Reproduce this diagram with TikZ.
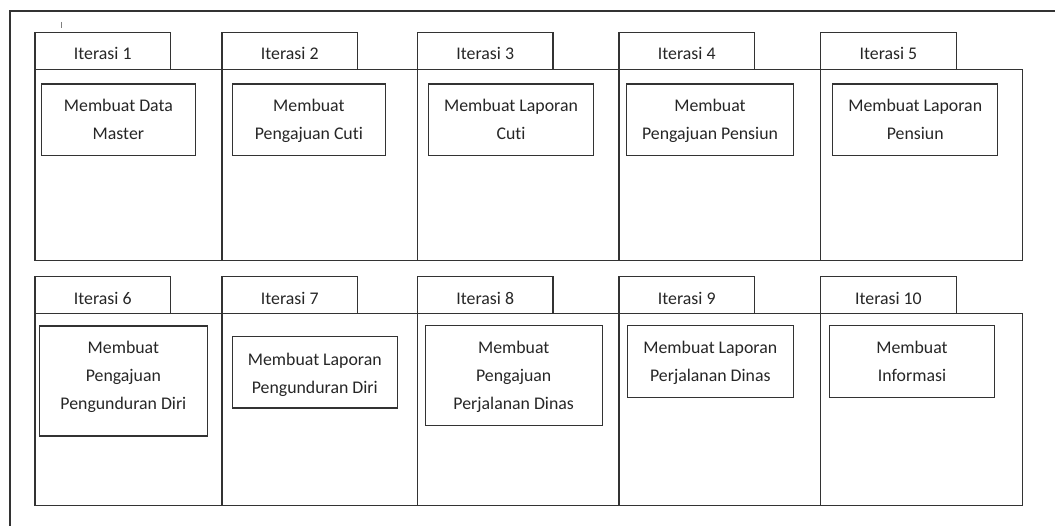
\documentclass[tikz,border=0pt]{standalone}
\usepackage{fontspec}
\setmainfont{Carlito}[Ligatures=NoCommon]
\usepackage{tikz}
\usetikzlibrary{positioning}
\tikzstyle{bodybox}=[rectangle,draw=black!80,line width=1.1pt,minimum height=191.5pt,inner sep=0pt,outer sep=0pt]
\tikzstyle{tabbox}=[rectangle,draw=black!80,line width=1.1pt,minimum width=135.5pt,inner sep=0pt,outer sep=0pt,text height=27.7pt,text depth=9.3pt,text=black!85,font=\fontsize{17.8}{28}\selectfont]
\tikzstyle{taskbox}=[rectangle,draw=black!80,line width=1.1pt,inner sep=0pt,outer sep=0pt,anchor=north,align=center,text height=55.5pt,text depth=16.2pt,text=black!85,font=\fontsize{17.8}{28}\selectfont]

\begin{document}
\begin{tikzpicture}[x=1pt,y=-1pt]
        \useasboundingbox (0,0) rectangle (1055,526);
        \draw[black!80,line width=1.1pt] (10,526) -- (10,11) -- (1055,11);
        \draw[black!50,line width=0.8pt] (61,22) -- (61,28);

        % baris pertama
        \node[bodybox, anchor=north west, minimum width=187pt] (b1) at (35,69.3) {};
        \node[bodybox, minimum width=195.5pt, right =0pt of b1] (b2) {};
        \node[bodybox, minimum width=201.5pt, right =0pt of b2] (b3) {};
        \node[bodybox, minimum width=201.7pt, right =0pt of b3] (b4) {};
        \node[bodybox, minimum width=201.6pt, right =0pt of b4] (b5) {};

        \node[tabbox, above right =0pt and 0pt of b1.north west] (t1) {Iterasi 1};
        \node[tabbox, above right =0pt and 0pt of b2.north west] (t2) {Iterasi 2};
        \node[tabbox, above right =0pt and 0pt of b3.north west] (t3) {Iterasi 3};
        \node[tabbox, above right =0pt and 0pt of b4.north west] (t4) {Iterasi 4};
        \node[tabbox, above right =0pt and 0pt of b5.north west] (t5) {Iterasi 5};

        \node[taskbox, minimum width=153.3pt] (k1) at (118.4,84) {Membuat Data\\Master};
        \node[taskbox, minimum width=153.7pt] (k2) at (308.9,84) {Membuat\\Pengajuan Cuti};
        \node[taskbox, minimum width=165.4pt] (k3) at (511,84) {Membuat Laporan\\Cuti};
        \node[taskbox, minimum width=166.6pt] (k4) at (710,84) {Membuat\\Pengajuan Pensiun};
        \node[taskbox, minimum width=165pt] (k5) at (915.2,84) {Membuat Laporan\\Pensiun};

        % baris kedua
        \node[bodybox, anchor=north west, minimum width=187pt] (b6) at (35,313.7) {};
        \node[bodybox, minimum width=195.5pt, right =0pt of b6] (b7) {};
        \node[bodybox, minimum width=201.5pt, right =0pt of b7] (b8) {};
        \node[bodybox, minimum width=201.7pt, right =0pt of b8] (b9) {};
        \node[bodybox, minimum width=201.6pt, right =0pt of b9] (b10) {};

        \node[tabbox, above right =0pt and 0pt of b6.north west] (t6) {Iterasi 6};
        \node[tabbox, above right =0pt and 0pt of b7.north west] (t7) {Iterasi 7};
        \node[tabbox, above right =0pt and 0pt of b8.north west] (t8) {Iterasi 8};
        \node[tabbox, above right =0pt and 0pt of b9.north west] (t9) {Iterasi 9};
        \node[tabbox, above right =0pt and 0pt of b10.north west] (t10) {Iterasi 10};

        \node[taskbox, minimum width=167.3pt, text height=83.3pt, text depth=26.7pt] (k6) at (123.4,326) {Membuat\\Pengajuan\\Pengunduran Diri};
        \node[taskbox, minimum width=165pt, text height=57.7pt, text depth=14pt] (k7) at (314.8,336.3) {Membuat Laporan\\Pengunduran Diri};
        \node[taskbox, minimum width=177.3pt, text height=83.6pt, text depth=16.4pt] (k8) at (513.7,325.7) {Membuat\\Pengajuan\\Perjalanan Dinas};
        \node[taskbox, minimum width=166pt, text height=55.6pt, text depth=16.4pt] (k9) at (710.3,325.7) {Membuat Laporan\\Perjalanan Dinas};
        \node[taskbox, minimum width=165.4pt, text height=55.6pt, text depth=16.4pt] (k10) at (912,325.7) {Membuat\\Informasi};
\end{tikzpicture}
\end{document}
